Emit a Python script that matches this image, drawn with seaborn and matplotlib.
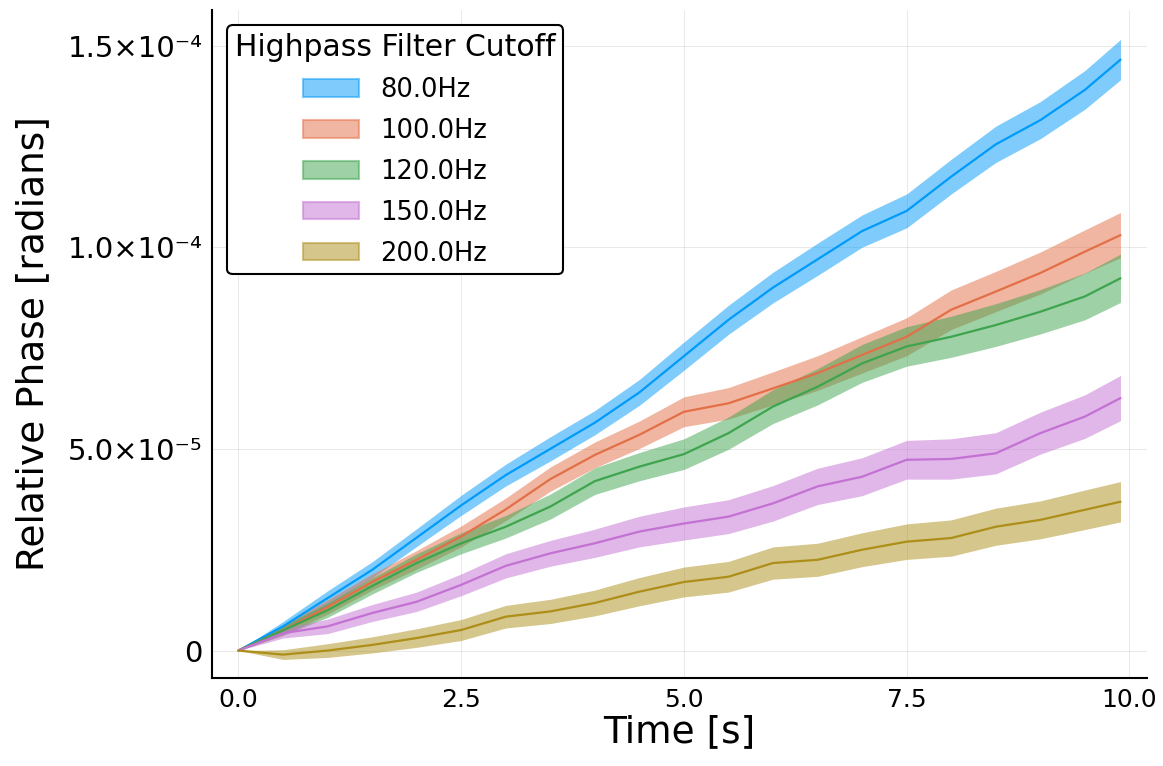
import numpy as np
import pandas as pd
import matplotlib
matplotlib.use("Agg")
import matplotlib.pyplot as plt
from matplotlib.patches import Patch
import seaborn as sns

# time axis [s]
time_s = [0.0, 0.5, 1.0, 1.5, 2.0, 2.5, 3.0, 3.5, 4.0, 4.5, 5.0,
          5.5, 6.0, 6.5, 7.0, 7.5, 8.0, 8.5, 9.0, 9.5, 9.9]

cutoffs = ["80.0Hz", "100.0Hz", "120.0Hz", "150.0Hz", "200.0Hz"]

# mean relative phase, units of 1e-5 rad
phase_80 = [0, 0.6, 1.3, 2.0, 2.8, 3.6, 4.35, 5.0, 5.65, 6.4, 7.3,
            8.2, 9.0, 9.7, 10.4, 10.9, 11.75, 12.55, 13.15, 13.9, 14.65]
phase_100 = [0, 0.5, 1.08, 1.7, 2.25, 2.83, 3.5, 4.25, 4.85, 5.35, 5.92,
             6.13, 6.5, 6.88, 7.33, 7.78, 8.45, 8.9, 9.36, 9.89, 10.3]
phase_120 = [0, 0.5, 1.0, 1.6, 2.17, 2.66, 3.07, 3.57, 4.2, 4.56, 4.87,
             5.39, 6.05, 6.54, 7.12, 7.54, 7.78, 8.07, 8.4, 8.78, 9.23]
phase_150 = [0, 0.43, 0.6, 0.93, 1.21, 1.63, 2.1, 2.41, 2.66, 2.95, 3.15,
             3.32, 3.65, 4.07, 4.31, 4.73, 4.75, 4.89, 5.39, 5.8, 6.26]
phase_200 = [0, -0.1, 0.0, 0.14, 0.31, 0.51, 0.84, 0.97, 1.18, 1.46, 1.7,
             1.83, 2.17, 2.25, 2.5, 2.7, 2.79, 3.07, 3.24, 3.49, 3.69]

# half width of the shaded band, same units
spread_80 = [0, 0.12, 0.18, 0.2, 0.22, 0.25, 0.27, 0.3, 0.3, 0.32, 0.35,
             0.36, 0.38, 0.4, 0.4, 0.42, 0.43, 0.45, 0.46, 0.48, 0.5]
spread_100 = [0, 0.12, 0.18, 0.2, 0.23, 0.26, 0.28, 0.3, 0.32, 0.34, 0.37,
              0.39, 0.41, 0.43, 0.45, 0.47, 0.49, 0.5, 0.52, 0.54, 0.56]
spread_120 = [0, 0.12, 0.18, 0.2, 0.23, 0.26, 0.28, 0.31, 0.33, 0.35, 0.38,
              0.4, 0.42, 0.45, 0.47, 0.49, 0.51, 0.53, 0.55, 0.58, 0.6]
spread_150 = [0, 0.12, 0.18, 0.21, 0.24, 0.27, 0.3, 0.32, 0.35, 0.38, 0.41,
              0.42, 0.44, 0.45, 0.47, 0.48, 0.5, 0.51, 0.52, 0.54, 0.56]
spread_200 = [0, 0.12, 0.17, 0.2, 0.23, 0.26, 0.28, 0.3, 0.32, 0.35, 0.37,
              0.38, 0.4, 0.41, 0.42, 0.44, 0.45, 0.46, 0.47, 0.49, 0.5]

colors = ["#009AFA", "#E36F47", "#3EA44E", "#C371D2", "#AC8E18"]

xtick_vals = [0, 2.5, 5.0, 7.5, 10.0]
xtick_text = ["0.0", "2.5", "5.0", "7.5", "10.0"]
ytick_vals = [0, 5e-5, 1e-4, 1.5e-4]
ytick_text = ["0", "5.0×10⁻⁵", "1.0×10⁻⁴", "1.5×10⁻⁴"]

means = [phase_80, phase_100, phase_120, phase_150, phase_200]
spreads = [spread_80, spread_100, spread_120, spread_150, spread_200]

rows = []
for name, m, s in zip(cutoffs, means, spreads):
    for t, v, e in zip(time_s, m, s):
        rows.append({"time": t, "phase": v * 1e-5, "err": e * 1e-5, "cutoff": name})
df = pd.DataFrame(rows)

sns.set_style("white")
plt.rcParams["font.family"] = ["DejaVu Sans"]
plt.rcParams["text.color"] = "black"
plt.rcParams["axes.labelcolor"] = "black"

fig = plt.figure(figsize=(11.63, 7.66), dpi=100)
ax = fig.add_axes([0.1823, 0.1149, 0.8039, 0.872])

# shaded spread first, mean lines on top
for name, col in zip(cutoffs, colors):
    sub = df[df["cutoff"] == name]
    ax.fill_between(sub["time"], sub["phase"] - sub["err"], sub["phase"] + sub["err"],
                    color=col, alpha=0.5, linewidth=0)

sns.lineplot(data=df, x="time", y="phase", hue="cutoff", palette=colors,
             hue_order=cutoffs, linewidth=1.6, ax=ax, legend=False, errorbar=None)

ax.set_xlim(-0.297, 10.197)
ax.set_ylim(-0.68e-5, 15.88e-5)
ax.set_xticks(xtick_vals)
ax.set_xticklabels(xtick_text)
ax.set_yticks(ytick_vals)
ax.set_yticklabels(ytick_text)

ax.grid(True, color="black", alpha=0.1, linewidth=0.6)
for side in ["top", "right"]:
    ax.spines[side].set_visible(False)
for side in ["left", "bottom"]:
    ax.spines[side].set_linewidth(1.5)
    ax.spines[side].set_color("black")
ax.tick_params(direction="in", length=7, width=1.2, colors="black", pad=7)
ax.tick_params(axis="x", labelsize=18)
ax.tick_params(axis="y", labelsize=21)

ax.set_xlabel("Time [s]", fontsize=27, labelpad=2)
ax.set_ylabel("Relative Phase [radians]", fontsize=27, labelpad=12)

handles = [Patch(facecolor=c, edgecolor=c, alpha=0.5, linewidth=1.5) for c in colors]
leg = ax.legend(handles, cutoffs, title="Highpass Filter Cutoff", loc="upper left",
                fontsize=18.5, title_fontsize=21.5, frameon=True, fancybox=True,
                borderaxespad=0.6, handlelength=2.15, handleheight=0.66,
                handletextpad=0.85, labelspacing=0.58, borderpad=0.3)
leg.get_frame().set_edgecolor("black")
leg.get_frame().set_linewidth(1.5)
leg.get_frame().set_alpha(1.0)
leg._legend_box.align = "center"

fig.savefig("out.png", dpi=100)
